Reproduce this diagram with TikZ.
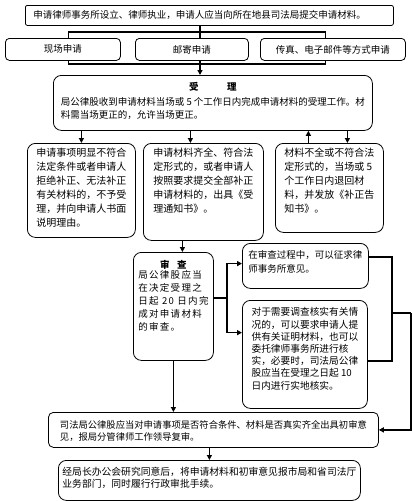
\documentclass[tikz,border=0pt]{standalone}
\usepackage{fontspec}
\usetikzlibrary{arrows.meta,calc}
\newfontfamily\cjk{Noto Sans CJK SC}

\begin{document}
\begin{tikzpicture}[x=1pt,y=-1pt,
  every node/.style={font=\cjk\fontsize{9.5}{12.3}\selectfont},
  box/.style={draw, line width=0.8pt, rounded corners=8pt, inner sep=0pt, anchor=north west},
  txt/.style={align=left, inner sep=0pt, anchor=north},
  link/.style={line width=1.6pt},
  arr/.style={line width=1.6pt, -{Triangle[length=5pt,width=5pt]}}]
\useasboundingbox (0,0) rectangle (412,501);

% application
\node[box, rounded corners=2pt, text width=352, inner xsep=8pt, minimum height=20, align=left] (B0) at (25,5) {申请律师事务所设立、律师执业，申请人应当向所在地县司法局提交申请材料。};
\node[box, rounded corners=4pt, minimum width=115, minimum height=22] (R1) at (5,38) {现场申请};
\node[box, rounded corners=4pt, minimum width=113, minimum height=22] (R2) at (135,38) {邮寄申请};
\node[box, rounded corners=4pt, minimum width=145, minimum height=22] (R3) at (260,38) {传真、电子邮件等方式申请};

% acceptance
\node[box, minimum width=319, minimum height=55] (SL) at (53,75) {};
\node[font=\cjk\bfseries\fontsize{9.5}{12}\selectfont] (SLt) at ($(SL.north)+(0,12)$) {受\hspace{3em}理};
\node[txt] (SLb) at ($(SL.north)+(0,22.5)$) {局公律股收到申请材料当场或 5 个工作日内完成申请材料的受理工作。材\\料需当场更正的，允许当场更正。};

\node[box, minimum width=108, minimum height=94] (A) at (27,143) {};
\node[txt, font=\cjk\fontsize{10}{14}\selectfont] (At) at ($(A.north)+(0,4.5)$) {申请事项明显不符合\\法定条件或者申请人\\拒绝补正、无法补正\\有关材料的，不予受\\理，并向申请人书面\\说明理由。};
\node[box, minimum width=120, minimum height=97] (B) at (143,143) {};
\node[txt, font=\cjk\fontsize{10}{14}\selectfont] (Bt) at ($(B.north)+(0,4.5)$) {申请材料齐全、符合法\\定形式的，或者申请人\\按照要求提交全部补正\\申请材料的，出具《受\\理通知书》。};
\node[box, minimum width=108, minimum height=89] (C) at (275,143) {};
\node[txt, font=\cjk\fontsize{10}{14}\selectfont] (Ct) at ($(C.north)+(0,4.5)$) {材料不全或不符合法\\定形式的，当场或 5\\个工作日内退回材\\料，并发放《补正告\\知书》。};

% review
\node[box, minimum width=80, minimum height=108] (SC) at (133,252) {};
\node[font=\cjk\bfseries\fontsize{9.5}{12}\selectfont] (SCt) at ($(SC.north)+(0,13)$) {审\hspace{0.8em}查};
\node[txt, font=\cjk\fontsize{9.5}{13}\selectfont\addfontfeature{LetterSpace=14}] (SCb) at ($(SC.north)+(0,18.5)$) {局公律股应当\\在决定受理之\\日起 20 日内完\\成对申请材料\\的审查。};
\node[box, minimum width=126, minimum height=45] (ZQ) at (242,243) {};
\node[txt, font=\cjk\fontsize{9.5}{14}\selectfont] (ZQt) at ($(ZQ.north)+(0,7.5)$) {在审查过程中，可以征求律\\师事务所意见。};
\node[box, minimum width=125, minimum height=108] (DC) at (242,300) {};
\node[txt, font=\cjk\fontsize{9.7}{12.2}\selectfont] (DCt) at ($(DC.north)+(0,7.5)$) {对于需要调查核实有关情\\况的，可以要求申请人提\\供有关证明材料，也可以\\委托律师事务所进行核\\实，必要时，司法局公律\\股应当在受理之日起 10\\日内进行实地核实。};

% decision
\node[box, rounded corners=5pt, minimum width=330, minimum height=35] (SF) at (48,412) {};
\node[txt, font=\cjk\fontsize{9.3}{12}\selectfont] (SFt) at ($(SF.north)+(0,8.5)$) {司法局公律股应当对申请事项是否符合条件、材料是否真实齐全出具初审意\\见，报局分管律师工作领导复审。};
\node[box, minimum width=302, minimum height=40] (BT) at (58,460) {};
\node[txt, font=\cjk\fontsize{9.8}{12}\selectfont] (BTt) at ($(BT.north)+(0,6.5)$) {经局长办公会研究同意后，将申请材料和初审意见报市局和省司法厅\\业务部门，同时履行行政审批手续。};

% connectors
\coordinate (U) at (200,32);
\coordinate (D) at (200,64);
\draw[link] (B0.south -| U) -- (R2.north -| U);
\draw[link] ([xshift=5.5pt]R1.north) |- (U) -| ([xshift=-7.5pt]R3.north);
\draw[link] ([xshift=5.5pt]R1.south) |- (D) -| ([xshift=-7.5pt]R3.south);
\draw[arr] (R2.south -| D) -- (SL.north -| D);

\draw[arr] (A.north |- SL.south) -- (A.north);
\draw[arr] ([xshift=-13pt]B.north |- SL.south) -- ([xshift=-13pt]B.north);
\draw[arr] ([xshift=18pt]C.north |- SL.south) -- ([xshift=18pt]C.north);
\draw[arr] ([xshift=-21pt]C.north) -- ([xshift=-21pt]C.north |- SL.south);
\draw[arr] ([xshift=9pt]SC.north |- B.south) -- ([xshift=9pt]SC.north);

\coordinate (J1) at (227,298);
\coordinate (J2) at (392,313);
\coordinate (J3) at (411,313);
\draw[link] (SC.east |- J1) -- (J1);
\draw[arr] (J1) |- ($(ZQ.north west)!0.45!(ZQ.south west)$);
\draw[arr] (J1) |- ($(DC.north west)!0.3!(DC.south west)$);
\draw[link] ($(ZQ.north east)!0.3!(ZQ.south east)$) -| (J2) |- ($(DC.north east)!0.56!(DC.south east)$);
\draw[link] (J2) -- (J3);
\draw[arr] (J3) |- (SF.east);

\draw[arr] (SC.south) -- (SC.south |- SF.north);
\draw[arr] (BT.north |- SF.south) -- (BT.north);
\end{tikzpicture}
\end{document}
